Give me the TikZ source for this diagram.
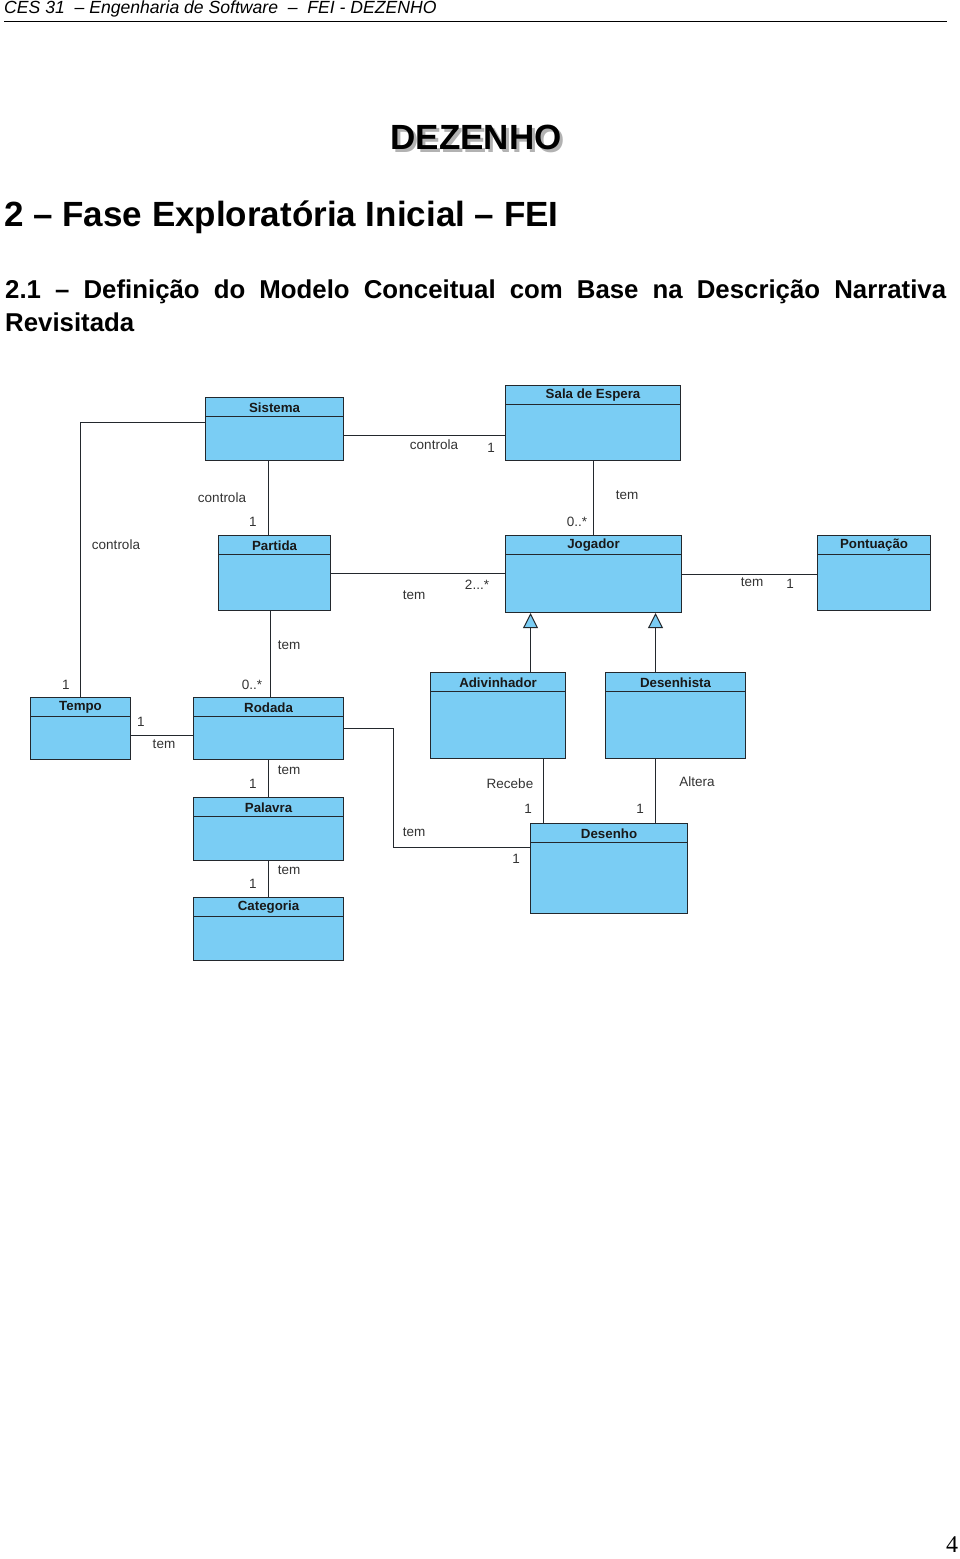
\documentclass[tikz,border=0pt]{standalone}
\usepackage{fontspec}
\setmainfont{Liberation Sans}
\newfontfamily\pagefont{Liberation Serif}
\usetikzlibrary{arrows.meta}
\usetikzlibrary{positioning}

\definecolor{classfill}{RGB}{122,205,244}
\definecolor{classline}{RGB}{35,40,45}

\tikzset{
  classbox/.style={draw=classline, fill=classfill, line width=1.1pt, inner sep=0pt},
  classtitle/.style={font=\fontsize{13.3}{13.3}\selectfont\bfseries, text=black!90, inner sep=0pt},
  assoc/.style={draw=classline, line width=1pt},
  inherit/.style={draw=classline, line width=1pt, -{Triangle[fill=classfill, length=15pt, width=15pt]}},
  role/.style={font=\fontsize{13.5}{13.5}\selectfont, text=black!80, inner sep=0pt},
}

% name, x, y, width, height, title
\newcommand{\umlclass}[6]{%
  \node[classbox, minimum width=#4pt, minimum height=#5pt, anchor=north west] (#1) at (#2,#3) {};
  \draw[classline, line width=1pt] ([yshift=-19pt]#1.north west) -- ([yshift=-19pt]#1.north east);
  \node[classtitle] (#1title) at ([yshift=-10.5pt]#1.north) {#6};
}

\begin{document}
\begin{tikzpicture}[x=1pt, y=-1pt]
  \useasboundingbox (0,0) rectangle (960,1559);

  % page head
  \node[anchor=west, inner sep=0pt, font=\fontsize{17.6}{17.6}\selectfont\itshape] (runhead) at (4,9) {CES 31 \ – Engenharia de Software \ – \ FEI - DEZENHO};
  \draw[line width=1pt] (4,21) -- (947,21);

  \node[font=\fontsize{35}{35}\selectfont\bfseries, text=gray!60] (titleshadow) at (479,140) {DEZENHO};
  \node[font=\fontsize{35}{35}\selectfont\bfseries] (title) at (476,137) {DEZENHO};

  \node[anchor=west, inner sep=0pt, font=\fontsize{35}{35}\selectfont\bfseries] (section) at (4,217) {2 – Fase Exploratória Inicial – FEI};
  \node[anchor=west, inner sep=0pt, font=\fontsize{25.8}{25.8}\selectfont\bfseries] (subsection) at (5,292)
    {\hbox to 941pt{2.1\hfill–\hfill Definição\hfill do\hfill Modelo\hfill Conceitual\hfill com\hfill Base\hfill na\hfill Descrição\hfill Narrativa}};
  \node[anchor=west, inner sep=0pt, font=\fontsize{25.8}{25.8}\selectfont\bfseries] (subsection2) at (5,322) {Revisitada};

  % classes
  \umlclass{sistema}{205}{397}{138}{63}{Sistema}
  \umlclass{sala}{505}{385}{175}{75}{Sala de Espera}
  \umlclass{partida}{218}{535}{112}{75}{Partida}
  \umlclass{jogador}{505}{535}{176}{77}{Jogador}
  \umlclass{pontuacao}{817}{535}{113}{75}{Pontuação}
  \umlclass{tempo}{30}{697}{100}{62}{Tempo}
  \umlclass{rodada}{193}{697}{150}{62}{Rodada}
  \umlclass{adivinhador}{430}{672}{135}{86}{Adivinhador}
  \umlclass{desenhista}{605}{672}{140}{86}{Desenhista}
  \umlclass{palavra}{193}{797}{150}{63}{Palavra}
  \umlclass{categoria}{193}{897}{150}{63}{Categoria}
  \umlclass{desenho}{530}{823}{157}{90}{Desenho}

  % associations
  \draw[assoc] ([yshift=-25pt]sistema.north west) -| (tempo.north);
  \draw[assoc] ([yshift=-38pt]sistema.north east) -- ([yshift=-50pt]sala.north west);
  \draw[assoc] ([xshift=-6pt]sistema.south) -- ([xshift=-6pt]partida.north);
  \draw[assoc] (sala.south) -- (sala.south |- jogador.north);
  \draw[assoc] (partida.east) -- (partida.east -| jogador.west);
  \draw[assoc] (jogador.east) -- (jogador.east -| pontuacao.west);
  \draw[assoc] ([xshift=-4pt]partida.south) -- ([xshift=-4pt]partida.south |- rodada.north);
  \draw[assoc] ([yshift=-7pt]tempo.east) -- ([yshift=-7pt]rodada.west);
  \draw[assoc] (rodada.south) -- (palavra.north);
  \draw[assoc] (palavra.south) -- (categoria.north);
  \draw[assoc] (rodada.east) -- ++(49,0) |- ([yshift=-24pt]desenho.north west);
  \draw[assoc] ([xshift=45.5pt]adivinhador.south) -- ([xshift=45.5pt]adivinhador.south |- desenho.north);
  \draw[assoc] ([xshift=-20pt]desenhista.south) -- ([xshift=-20pt]desenhista.south |- desenho.north);

  % generalizations
  \draw[inherit] ([xshift=32.5pt]adivinhador.north) -- ([xshift=32.5pt]adivinhador.north |- jogador.south);
  \draw[inherit] ([xshift=-20pt]desenhista.north) -- ([xshift=-20pt]desenhista.north |- jogador.south);

  % association labels
  \node[role] (l1) at (116,545) {controla};
  \node[role] (m1) at (66,685) {1};
  \node[role] (l2) at (434,445) {controla};
  \node[role] (m2) at (491,448) {1};
  \node[role] (l3) at (222,498) {controla};
  \node[role] (m3) at (253,522) {1};
  \node[role] (l4) at (627,495) {tem};
  \node[role] (m4) at (577,522) {0..*};
  \node[role] (l5) at (414,595) {tem};
  \node[role] (m5) at (477,585) {2...*};
  \node[role] (l6) at (752,582) {tem};
  \node[role] (m6) at (790,584) {1};
  \node[role] (l7) at (289,645) {tem};
  \node[role] (m7) at (252,685) {0..*};
  \node[role] (m8) at (141,722) {1};
  \node[role] (l8) at (164,744) {tem};
  \node[role] (l9) at (289,770) {tem};
  \node[role] (m9) at (253,784) {1};
  \node[role] (l10) at (289,870) {tem};
  \node[role] (m10) at (253,884) {1};
  \node[role] (l11) at (414,832) {tem};
  \node[role] (m11) at (516,859) {1};
  \node[role] (l12) at (510,784) {Recebe};
  \node[role] (m12) at (528,809) {1};
  \node[role] (l13) at (697,782) {Altera};
  \node[role] (m13) at (640,809) {1};

  \node[font=\pagefont\fontsize{24}{24}\selectfont] (pagenum) at (952,1545) {4};
\end{tikzpicture}
\end{document}
